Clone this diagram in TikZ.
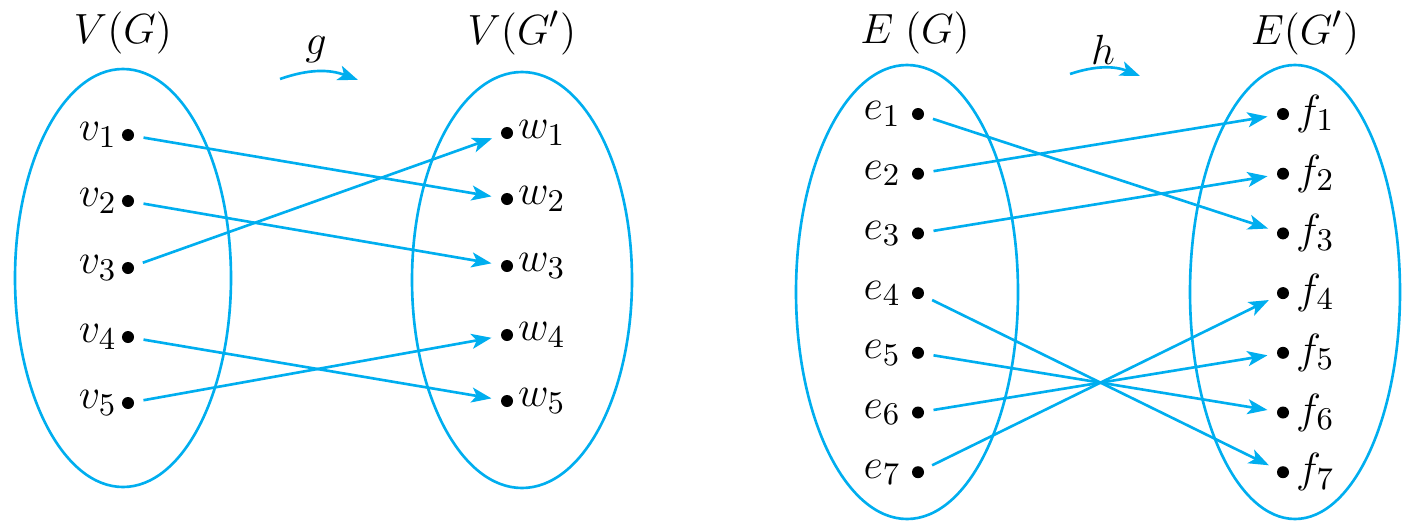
\documentclass[tikz,border=0pt]{standalone}
\usepackage{amsmath}
\usetikzlibrary{arrows.meta}
\definecolor{setblue}{RGB}{0,174,239}

\begin{document}
\begin{tikzpicture}[x=0.01cm,y=-0.01cm,every node/.style={font=\fontsize{13}{15}\selectfont},
 pt/.style={circle,fill=black,inner sep=0pt,minimum size=0.12cm},
 setline/.style={draw=setblue,line width=0.75pt},
 conn/.style={setblue,line width=0.75pt,-{Stealth[length=0.2cm,width=0.15cm,inset=0.05cm]},
  shorten <=0.09cm,shorten >=0.09cm}]
 \useasboundingbox (0,0) rectangle (1403,521);
 % vertex sets
 \draw[setline] (123,278) ellipse [x radius=108,y radius=209];
 \draw[setline] (522,280) ellipse [x radius=110,y radius=208];
 \node (VG) at (123,33) {$V(G)$};
 \node (VGp) at (522,33) {$V(G')$};
 \foreach \i/\y in {1/135,2/201,3/268,4/337,5/403} {
  \node[pt,label={[label distance=-0.08cm]left:$v_{\i}$}] (v\i) at (128,\y) {};
  \node[pt,label={[label distance=-0.08cm]right:$w_{\i}$}] (w\i) at (507,\y-2) {};
 }
 \foreach \a/\b in {1/2,2/3,3/1,4/5,5/4}
  \draw[conn] (v\a) -- (w\b);
 \coordinate (gs) at (280,79);
 \coordinate (ge) at (358,80);
 \draw[conn,shorten <=0pt,shorten >=0pt] (gs) to[bend left=20] (ge);
 \node (g) at (316,50) {$g$};
 % edge sets
 \draw[setline] (907,292) ellipse [x radius=111,y radius=227];
 \draw[setline] (1295,292) ellipse [x radius=105,y radius=227];
 \node (EG) at (915,33) {$E\;(G)$};
 \node (EGp) at (1305,33) {$E(G')$};
 \foreach \i in {1,...,7} {
  \node[pt,label={[label distance=-0.02cm]left:$e_{\i}$}] (e\i) at (918,114+59.7*\i-59.7) {};
  \node[pt,label={[label distance=-0.06cm]right:$f_{\i}$}] (f\i) at (1283,114+59.7*\i-59.7) {};
 }
 \foreach \a/\b in {1/3,2/1,3/2,4/7,5/6,6/5,7/4}
  \draw[conn] (e\a) -- (f\b);
 \coordinate (hs) at (1070,74);
 \coordinate (he) at (1140,76);
 \draw[conn,shorten <=0pt,shorten >=0pt] (hs) to[bend left=20] (he);
 \node (h) at (1103,50) {$h$};
\end{tikzpicture}
\end{document}
